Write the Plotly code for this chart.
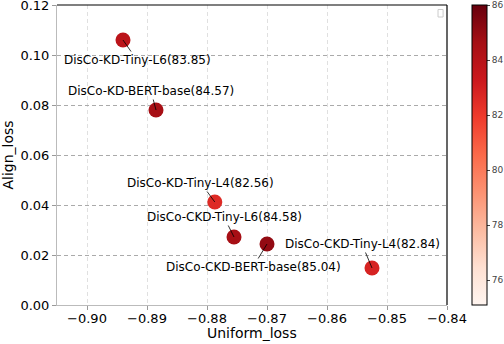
import plotly.graph_objects as go
import plotly.colors as pc

# data
names = ["DisCo-KD-Tiny-L6", "DisCo-KD-BERT-base", "DisCo-KD-Tiny-L4",
         "DisCo-CKD-Tiny-L6", "DisCo-CKD-BERT-base", "DisCo-CKD-Tiny-L4"]
scores = [83.85, 84.57, 82.56, 84.58, 85.04, 82.84]
uniform_loss = [-0.894, -0.8885, -0.8787, -0.8755, -0.870, -0.8525]
align_loss = [0.106, 0.078, 0.0412, 0.0272, 0.0244, 0.0148]

# label offsets in pixels (text centre relative to point)
label_dx = [14, -5, -14, -10, -14, -10]
label_dy = [20, -19, -19, -20, 23, -24]

font = "DejaVu Sans"

fig = go.Figure()
fig.add_trace(go.Scatter(
    x=uniform_loss,
    y=align_loss,
    mode="markers",
    marker=dict(
        size=15,
        color=scores,
        colorscale=pc.sequential.Reds,
        cmin=75.1,
        cmax=86,
        showscale=True,
        line=dict(width=0),
        colorbar=dict(
            x=1.064, xanchor="left", xref="paper",
            y=0, yanchor="bottom", len=1, lenmode="fraction",
            thickness=15, xpad=0, ypad=0,
            outlinecolor="black", outlinewidth=1,
            tickvals=[76, 78, 80, 82, 84, 86],
            ticks="outside", ticklen=3, tickcolor="#444",
            tickfont=dict(family=font, size=9, color="#444"),
            ticklabeloverflow="allow",
        ),
    ),
    hoverinfo="skip",
    showlegend=False,
))

for name, s, x, y, dx, dy in zip(names, scores, uniform_loss, align_loss, label_dx, label_dy):
    fig.add_annotation(
        x=x, y=y, text=f"{name}({s:.2f})",
        showarrow=True, arrowhead=0, arrowwidth=0.8, arrowcolor="black",
        ax=dx, ay=dy, standoff=0,
        font=dict(family=font, size=12, color="black"),
    )

# x axis title placed by hand (axis titles are squeezed into the margin)
fig.add_annotation(
    xref="paper", yref="paper", x=0.5, y=0, yshift=-28,
    xanchor="center", yanchor="middle", showarrow=False,
    text="Uniform_loss", font=dict(family=font, size=14, color="black"),
)

# top / right spines in black
fig.add_shape(type="line", xref="paper", yref="paper", x0=0, x1=1, y0=1, y1=1,
              line=dict(color="black", width=1.2))
fig.add_shape(type="line", xref="paper", yref="paper", x0=1, x1=1, y0=0, y1=1,
              line=dict(color="black", width=1.2))
# tiny empty legend box
fig.add_shape(type="rect", xref="paper", yref="paper", x0=0.977, x1=0.99, y0=0.96, y1=0.985,
              line=dict(color="#cccccc", width=1), fillcolor="white")

fig.update_xaxes(
    range=[-0.905, -0.84],
    tickvals=[-0.90, -0.89, -0.88, -0.87, -0.86, -0.85, -0.84],
    ticktext=["\u22120.90", "\u22120.89", "\u22120.88", "\u22120.87", "\u22120.86", "\u22120.85", "\u22120.84"],
    showgrid=True, gridcolor="#e0e0e0", griddash="4px,3px", gridwidth=1,
    showline=True, linecolor="#bbbbbb", linewidth=1,
    ticks="outside", ticklen=4, tickcolor="#999999", ticklabelstandoff=-3,
    tickfont=dict(family=font, size=13, color="black"),
    zeroline=False, automargin=False, ticklabeloverflow="allow",
)
fig.update_yaxes(
    range=[0, 0.12001],
    tickvals=[0, 0.02, 0.04, 0.06, 0.08, 0.10, 0.12],
    ticktext=["0.00", "0.02", "0.04", "0.06", "0.08", "0.10", "0.12"],
    showgrid=True, gridcolor="#aaaaaa", griddash="4px,3px", gridwidth=1,
    showline=True, linecolor="#bbbbbb", linewidth=1,
    ticks="outside", ticklen=4, tickcolor="#999999",
    tickfont=dict(family=font, size=13, color="black"),
    title=dict(text="Align_loss", font=dict(family=font, size=14, color="black"), standoff=4),
    zeroline=False, automargin=False, ticklabeloverflow="allow",
)

fig.update_layout(
    width=504, height=344,
    margin=dict(l=57, r=57, t=5, b=39, autoexpand=False),
    plot_bgcolor="white", paper_bgcolor="white",
    font=dict(family=font),
)

# the page body has a default 8px margin; drop it so the figure fills the window
fig.write_html("out.html", config={"displayModeBar": False},
               post_script="document.body.style.margin='0';")
